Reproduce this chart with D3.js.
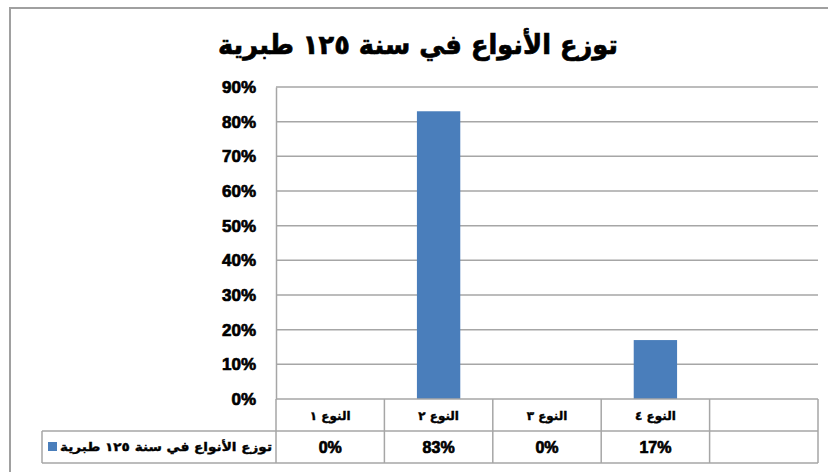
<!DOCTYPE html>
<html>
<head>
<meta charset="utf-8">
<script src="https://cdn.jsdelivr.net/npm/d3@7"></script>
<style>
  body { margin: 0; background: #fff; }
  text { font-family: "DejaVu Sans", sans-serif; font-weight: bold; fill: #000; }
  .heavy { stroke: #000; stroke-width: 0.7px; }
</style>
</head>
<body>
<div id="chart"></div>
<script>
    var width = 828;
    var height = 472;

    // values
    var chartTitle = "توزع الأنواع في سنة ١٢٥ طبرية";
    var seriesName = "توزع الأنواع في سنة ١٢٥ طبرية";
    var categories = ["النوع ١", "النوع ٢", "النوع ٣", "النوع ٤", ""];
    var values = [0, 0.83, 0, 0.17];
    var valueLabels = ["0%", "83%", "0%", "17%"];
    var yTicks = [0, 0.1, 0.2, 0.3, 0.4, 0.5, 0.6, 0.7, 0.8, 0.9];

    // plot frame
    var plotLeft = 276, plotRight = 818, plotTop = 87, plotBottom = 399;
    var rowH = 32;
    var legendLeft = 42;
    var gridColor = "#a6a6a6";

    var x = d3.scaleBand().domain(categories).range([plotLeft, plotRight]).paddingInner(0).paddingOuter(0);
    var y = d3.scaleLinear().domain([0, 0.9]).range([plotBottom, plotTop]);

    var svg = d3.select("#chart")
                .append("svg")
                .attr("width", width)
                .attr("height", height);

    // outer chart border (runs off the right and bottom edges)
    svg.append("rect")
       .attr("x", 10).attr("y", 8)
       .attr("width", 840).attr("height", 480)
       .attr("fill", "#fff")
       .attr("stroke", "#a0a0a0").attr("stroke-width", 2);

    svg.append("text")
       .attr("class", "heavy")
       .attr("x", 418).attr("y", 54)
       .attr("text-anchor", "middle")
       .attr("textLength", 400).attr("lengthAdjust", "spacingAndGlyphs")
       .style("font-size", "27px")
       .text(chartTitle);

    // gridlines
    svg.append("g").selectAll("line")
       .data(yTicks.filter(function(d) { return d > 0; }))
       .enter().append("line")
       .attr("x1", plotLeft).attr("x2", plotRight)
       .attr("y1", function(d) { return y(d); })
       .attr("y2", function(d) { return y(d); })
       .attr("stroke", gridColor).attr("stroke-width", 1.5);

    // y axis
    var yAxis = d3.axisLeft(y).tickValues(yTicks).tickSize(0).tickPadding(20)
                  .tickFormat(d3.format(".0%"));
    var gy = svg.append("g").attr("transform", "translate(" + plotLeft + ",0)").call(yAxis);
    gy.select(".domain").attr("stroke", gridColor).attr("stroke-width", 1.5);
    gy.selectAll("text")
      .attr("class", "heavy")
      .style("font-family", "'Liberation Sans', Arial, sans-serif")
      .style("font-size", "17px").style("font-weight", "bold");

    // bars
    var barW = x.bandwidth() * 0.4;
    svg.append("g").selectAll("rect")
       .data(values)
       .enter().append("rect")
       .attr("x", function(d, i) { return x(categories[i]) + (x.bandwidth() - barW) / 2; })
       .attr("y", function(d) { return y(d); })
       .attr("width", barW)
       .attr("height", function(d) { return y(0) - y(d); })
       .attr("fill", "#4a7ebb");

    // data table
    var t = svg.append("g").attr("stroke", gridColor).attr("stroke-width", 1.5);
    t.append("line").attr("x1", plotLeft).attr("x2", plotRight)
     .attr("y1", plotBottom).attr("y2", plotBottom);
    t.append("line").attr("x1", legendLeft).attr("x2", plotRight)
     .attr("y1", plotBottom + rowH).attr("y2", plotBottom + rowH);
    t.append("line").attr("x1", legendLeft).attr("x2", plotRight)
     .attr("y1", plotBottom + 2 * rowH).attr("y2", plotBottom + 2 * rowH);
    t.append("line").attr("x1", legendLeft).attr("x2", legendLeft)
     .attr("y1", plotBottom + rowH).attr("y2", plotBottom + 2 * rowH);
    t.selectAll(".col")
     .data(categories.concat(["end"]))
     .enter().append("line")
     .attr("x1", function(d, i) { return plotLeft + i * x.bandwidth(); })
     .attr("x2", function(d, i) { return plotLeft + i * x.bandwidth(); })
     .attr("y1", plotBottom).attr("y2", plotBottom + 2 * rowH);

    svg.append("g").selectAll("text")
       .data(categories)
       .enter().append("text")
       .attr("class", "heavy")
       .attr("x", function(d) { return x(d) + x.bandwidth() / 2; })
       .attr("y", plotBottom + 21)
       .attr("text-anchor", "middle")
       .style("font-size", "12px")
       .style("stroke-width", "0.4px")
       .text(function(d) { return d; });

    svg.append("g").selectAll("text")
       .data(valueLabels)
       .enter().append("text")
       .attr("class", "heavy")
       .attr("x", function(d, i) { return x(categories[i]) + x.bandwidth() / 2; })
       .attr("y", plotBottom + rowH + 22)
       .attr("text-anchor", "middle")
       .style("font-family", "'Liberation Sans', Arial, sans-serif")
       .style("font-size", "16px")
       .text(function(d) { return d; });

    // legend key in table
    svg.append("rect")
       .attr("x", legendLeft + 6).attr("y", plotBottom + rowH + 11)
       .attr("width", 9).attr("height", 9)
       .attr("fill", "#4a7ebb");
    svg.append("text")
       .attr("class", "heavy")
       .attr("x", plotLeft - 4).attr("y", plotBottom + rowH + 20)
       .attr("text-anchor", "end")
       .attr("textLength", 212).attr("lengthAdjust", "spacingAndGlyphs")
       .style("font-size", "12px")
       .style("stroke-width", "0.4px")
       .text(seriesName);
</script>
</body>
</html>
